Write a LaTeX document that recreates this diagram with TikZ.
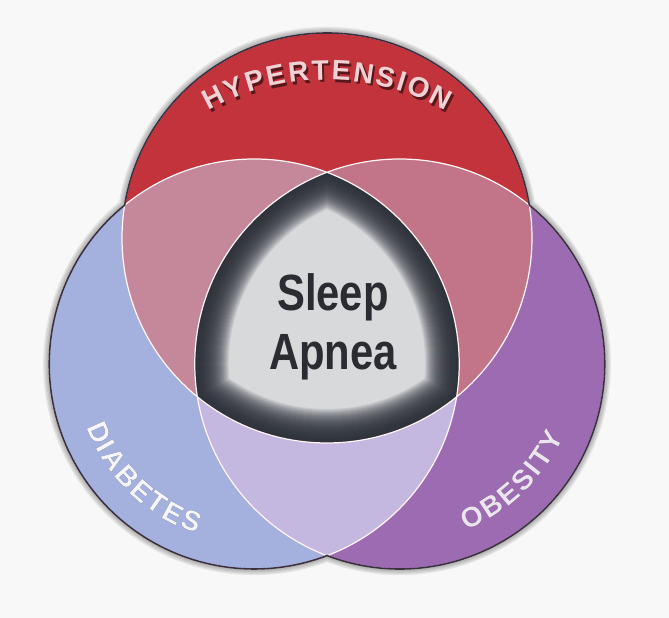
\documentclass[tikz,border=0pt]{standalone}
\usepackage{fontspec}
\usepackage{tikz}
\usetikzlibrary{decorations.text}
\newfontfamily\labelfont{Liberation Sans Bold}[WordSpace=0.3]
\newfontfamily\apneafont{Liberation Sans}[FakeStretch=0.82]
\newcommand\labelstyle{\labelfont\fontsize{16}{19}\selectfont}
\definecolor{paper}{HTML}{F8F8F8}
\definecolor{hypred}{HTML}{C2333C}
\definecolor{diablue}{HTML}{A4B0DE}
\definecolor{obepurple}{HTML}{9C6BB2}
\definecolor{hypdia}{HTML}{C5879A}
\definecolor{hypobe}{HTML}{C27489}
\definecolor{diaobe}{HTML}{C4B7E0}
\definecolor{coredark}{HTML}{2B2F37}
\definecolor{corelight}{HTML}{D8D9DB}
\definecolor{inkdark}{HTML}{2A2C31}
\definecolor{rimdark}{HTML}{3A3040}
\definecolor{shadowgray}{HTML}{505050}
\def\vennr{4.1}
\newcommand\vennoutline{([shift={(9.22:\vennr)}]hyp) arc[start angle=9.22,end angle=170.78,radius=\vennr]
  arc[start angle=129.21,end angle=290.79,radius=\vennr] arc[start angle=249.21,end angle=410.79,radius=\vennr] -- cycle}
\newcommand\apneacore{([shift={(110.79:\vennr)}]obe) arc[start angle=110.79,end angle=189.21,radius=\vennr]
  arc[start angle=230.79,end angle=309.21,radius=\vennr] arc[start angle=-9.21,end angle=69.21,radius=\vennr] -- cycle}
\tikzset{white line/.style={draw=white!85!pink, line width=0.7pt},
  rim/.style={draw=rimdark, line width=0.9pt},
  label arc/.style={decorate, decoration={text along path, text align=center, text={#1}}},
  apnea text/.style={font=\apneafont\bfseries\fontsize{29}{33.6}\selectfont, text=inkdark, align=center, inner sep=0pt}}

\begin{document}
\begin{tikzpicture}[line join=round]
    \coordinate (hyp) at (90:1.68);
    \coordinate (dia) at (210:1.68);
    \coordinate (obe) at (330:1.68);
    \fill[paper] (-6.54,-5.92) rectangle (6.84,6.44);
    \useasboundingbox (-6.54,-5.92) rectangle (6.84,6.44);
    \foreach \w in {1,2.5,...,8}
      \draw[shadowgray, line width=\w pt, draw opacity=0.11, shift={(0.06,-0.22)}] \vennoutline;
    \fill[hypred] (hyp) circle[radius=\vennr];
    \fill[diablue] (dia) circle[radius=\vennr];
    \fill[obepurple] (obe) circle[radius=\vennr];
    \begin{scope}
      \clip (hyp) circle[radius=\vennr];
      \fill[hypdia] (dia) circle[radius=\vennr];
      \fill[hypobe] (obe) circle[radius=\vennr];
    \end{scope}
    \begin{scope}
      \clip (dia) circle[radius=\vennr];
      \fill[diaobe] (obe) circle[radius=\vennr];
    \end{scope}
    \begin{scope}
      \clip \apneacore;
      \fill[corelight] \apneacore;
      \foreach \w in {0.08,0.12,...,1.36}
        \draw[coredark, line width=\w cm, draw opacity=0.085] \apneacore;
    \end{scope}
    \draw[white line] (hyp) circle[radius=\vennr] (dia) circle[radius=\vennr] (obe) circle[radius=\vennr];
    \draw[rim] \vennoutline;
    \path[shift={(0.04,-0.05)}, label arc={|\labelstyle\color{hypred!45!black}|H Y P E R T E N S I O N}]
      (180:4.84) arc[start angle=180,end angle=0,radius=4.84];
    \path[label arc={|\labelstyle\color{white!78!hypred}|H Y P E R T E N S I O N}]
      (180:4.84) arc[start angle=180,end angle=0,radius=4.84];
    \path[shift={(0.04,-0.05)}, label arc={|\labelstyle\color{diablue!35!black}|D I A B E T E S}]
      ([shift={(136:3.58)}]dia) arc[start angle=136,end angle=316,radius=3.58];
    \path[label arc={|\labelstyle\color{white!88!diablue}|D I A B E T E S}]
      ([shift={(136:3.58)}]dia) arc[start angle=136,end angle=316,radius=3.58];
    \path[shift={(0.04,-0.05)}, label arc={|\labelstyle\color{obepurple!35!black}|O B E S I T Y}]
      ([shift={(224:3.58)}]obe) arc[start angle=224,end angle=404,radius=3.58];
    \path[label arc={|\labelstyle\color{white!82!obepurple}|O B E S I T Y}]
      ([shift={(224:3.58)}]obe) arc[start angle=224,end angle=404,radius=3.58];
    \node[apnea text] (apnea) at (0.12,-0.09) {Sleep\\Apnea};
\end{tikzpicture}
\end{document}
